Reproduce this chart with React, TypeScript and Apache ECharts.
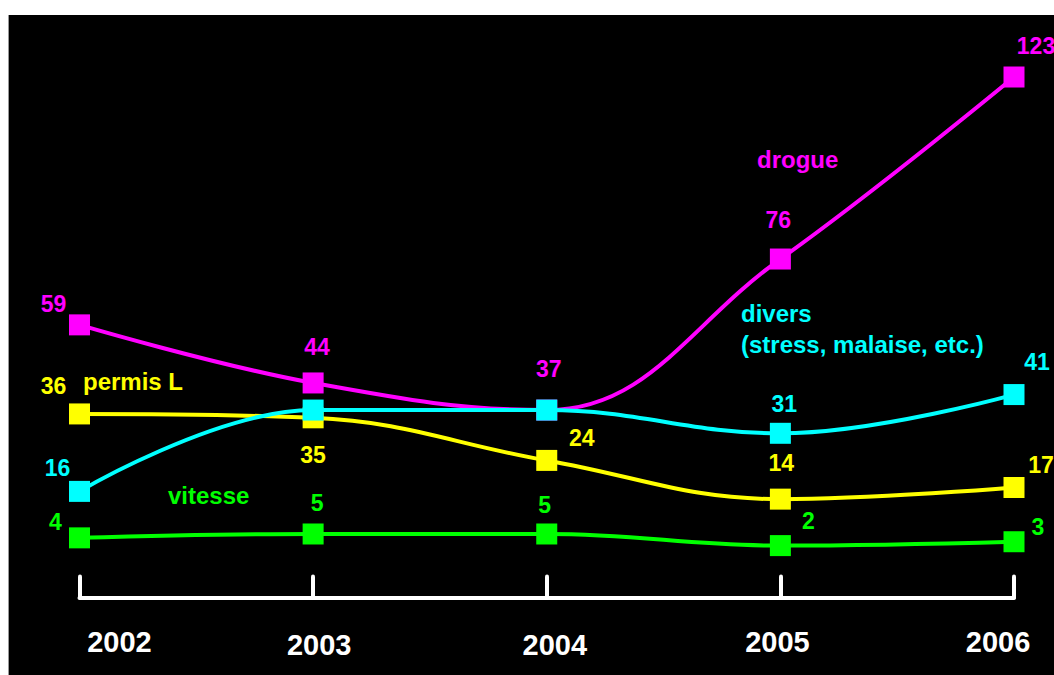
import React, { useEffect, useRef } from "react";
import * as echarts from "echarts";

const years = ["2002", "2003", "2004", "2005", "2006"];
const drogue = [59, 44, 37, 76, 123];
const divers = [16, 37, 37, 31, 41];
const permisL = [36, 35, 24, 14, 17];
const vitesse = [4, 5, 5, 2, 3];

// label placement (style only)
const drogueLabelOffset = [[-26, -21], [4, -36], [2, -41], [-2, -39], [22, -31]];
const diversLabelOffset = [[-22, -23], null, null, [4, -29], [23, -33]];
const permisLabelOffset = [[-26, -28], [0, 37], [35, -22], [1, -36], [27, -23]];
const vitesseLabelOffset = [[-24, -16], [4, -31], [-2, -29], [28, -25], [24, -15]];

const FONT = '"Liberation Sans", Arial, sans-serif';

const yearPadding = [
  [0, 0, 0, 80],
  [3, 0, 0, 12],
  [3, 0, 0, 16],
  [0, 6, 0, 0],
  [0, 32, 0, 0],
];

function makeSeries(name: string, values: number[], color: string, offsets: any[], z: number) {
  return {
    name,
    type: "line",
    smooth: 0.4,
    symbol: "rect",
    symbolSize: 21,
    z,
    itemStyle: { color },
    lineStyle: { color, width: 4 },
    data: values.map((v, i) => ({
      value: v,
      label: offsets[i]
        ? { show: true, offset: offsets[i] }
        : { show: false },
    })),
    label: {
      show: true,
      position: "inside",
      color,
      fontSize: 23,
      fontWeight: "bold",
      fontFamily: FONT,
    },
  };
}

export default function App() {
  const ref = useRef<HTMLDivElement>(null);
  useEffect(() => {
    if (!ref.current) return;
    const chart = echarts.init(ref.current, null, { renderer: "svg" });
    const rich: any = {};
    yearPadding.forEach((p, i) => {
      rich["y" + i] = {
        padding: p,
        color: "#fff",
        fontSize: 29,
        fontWeight: "bold",
        fontFamily: FONT,
      };
    });
    const nameFont = "bold 24px " + FONT;
    chart.setOption({
      animation: false,
      backgroundColor: "#000",
      grid: { left: 71.5, right: 40, top: 34.9, bottom: 77.5 },
      xAxis: {
        type: "category",
        data: years,
        boundaryGap: false,
        axisLine: { onZero: false, lineStyle: { color: "#fff", width: 4, cap: "round" } },
        axisTick: { inside: true, length: 21, lineStyle: { color: "#fff", width: 4, cap: "round" } },
        axisLabel: {
          interval: 0,
          margin: 30,
          formatter: (v: string, i: number) => `{y${i}|${v}}`,
          rich,
        },
        splitLine: { show: false },
      },
      yAxis: {
        type: "value",
        min: -11.4,
        max: 130,
        show: false,
        splitLine: { show: false },
      },
      graphic: [
        { type: "rect", shape: { x: 0, y: 0, width: 1, height: 660 }, style: { fill: "#999" } },
        { type: "text", x: 749, y: 144, style: { text: "drogue", fill: "#FF00FF", font: nameFont, textAlign: "left", textVerticalAlign: "middle" } },
        { type: "text", x: 75, y: 366, style: { text: "permis L", fill: "#FFFF00", font: nameFont, textAlign: "left", textVerticalAlign: "middle" } },
        { type: "text", x: 160, y: 480, style: { text: "vitesse", fill: "#00FF00", font: nameFont, textAlign: "left", textVerticalAlign: "middle" } },
        { type: "text", x: 733, y: 298, style: { text: "divers", fill: "#00FFFF", font: nameFont, textAlign: "left", textVerticalAlign: "middle" } },
        { type: "text", x: 733, y: 329, style: { text: "(stress, malaise, etc.)", fill: "#00FFFF", font: nameFont, textAlign: "left", textVerticalAlign: "middle" } },
      ],
      series: [
        makeSeries("vitesse", vitesse, "#00FF00", vitesseLabelOffset, 2),
        makeSeries("permis L", permisL, "#FFFF00", permisLabelOffset, 3),
        makeSeries("drogue", drogue, "#FF00FF", drogueLabelOffset, 4),
        makeSeries("divers", divers, "#00FFFF", diversLabelOffset, 5),
      ],
    });
    return () => chart.dispose();
  }, []);
  return (
    <div
      ref={ref}
      style={{ position: "absolute", left: 8, top: 15, width: 1046, height: 660 }}
    />
  );
}
